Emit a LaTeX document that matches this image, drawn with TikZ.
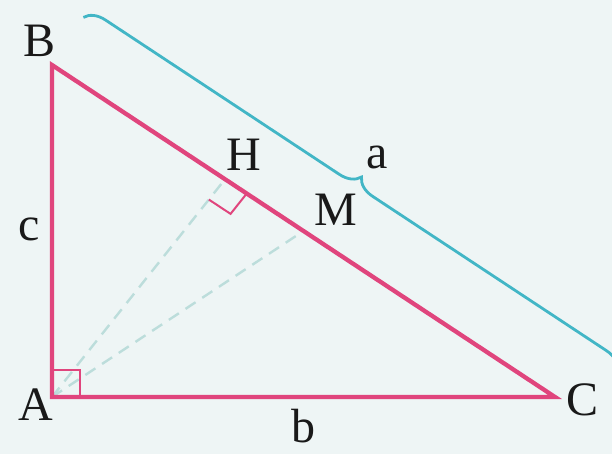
\documentclass[tikz,border=0pt]{standalone}
\usepackage{fontspec}
\setmainfont{Liberation Serif}
\usetikzlibrary{calc, positioning, decorations.pathreplacing}
\definecolor{bgmint}{HTML}{EEF5F5}
\definecolor{sidepink}{HTML}{E0457D}
\definecolor{braceteal}{HTML}{42B6C6}
\definecolor{dashgray}{HTML}{BCDDDB}

\begin{document}
\begin{tikzpicture}[
        x=1pt, y=1pt,
        side/.style={draw=sidepink, line width=4.3pt, line join=miter},
        anglemark/.style={draw=sidepink, line width=2pt},
        median/.style={draw=dashgray, line width=2.4pt, dash pattern=on 12pt off 8pt},
        sidebrace/.style={draw=braceteal, line width=2.8pt, decorate, decoration={brace, amplitude=20pt}},
        lbl/.style={inner sep=0pt, font=\fontsize{48}{54}\selectfont, text=black!90}
    ]
        \fill[bgmint] (0,0) rectangle (612,-454);
        \useasboundingbox (0,0) rectangle (612,-454);
        \clip (0,0) rectangle (612,-454);

        % Points
        \coordinate (A) at (52,-397);
        \coordinate (B) at (52,-65);
        \coordinate (C) at (555,-397);
        \coordinate (M) at ($(B)!0.5!(C)$);
        \coordinate (H) at ($(B)!0.344!(C)$);

        % Dashed lines from A
        \draw [median] (A) -- (H);
        \draw [median] (A) -- (M);

        % Right angles
        \draw [anglemark] ($(A)+(0,27)$) -- ($(A)+(28,27)$) -- ($(A)+(28,0)$);
        \coordinate (h1) at ($(H)!26pt!(C)$);
        \coordinate (h2) at ($(H)!26pt!(A)$);
        \draw [anglemark] (h1) -- ($(h1)+(h2)-(H)$) -- (h2);

        % Triangle
        \draw [side] (A) -- (B) -- (C) -- cycle;

        % Brace for side a
        \coordinate (b1) at ($(B)!57pt!90:(C)$);
        \coordinate (c1) at ($(C)!57pt!-90:(B)$);
        \coordinate (c2) at ($(b1)!1.062!(c1)$);
        \draw [sidebrace] (b1) -- (c2);

        % Labels
        \node (lblA) [lbl] at ($(A)+(-16,-8)$) {A};
        \node (lblB) [lbl] at ($(B)+(-12,24)$) {B};
        \node (lblC) [lbl] at ($(C)+(27,-3)$) {C};
        \node (lblH) [lbl] at (244,-155) {H};
        \node (lblM) [lbl] at (336,-210) {M};
        \node (lbla) [lbl] at (377,-157) {a};
        \node (lblb) [lbl] at (303,-426) {b};
        \node (lblc) [lbl] at (29,-229) {c};

    \end{tikzpicture}
\end{document}
